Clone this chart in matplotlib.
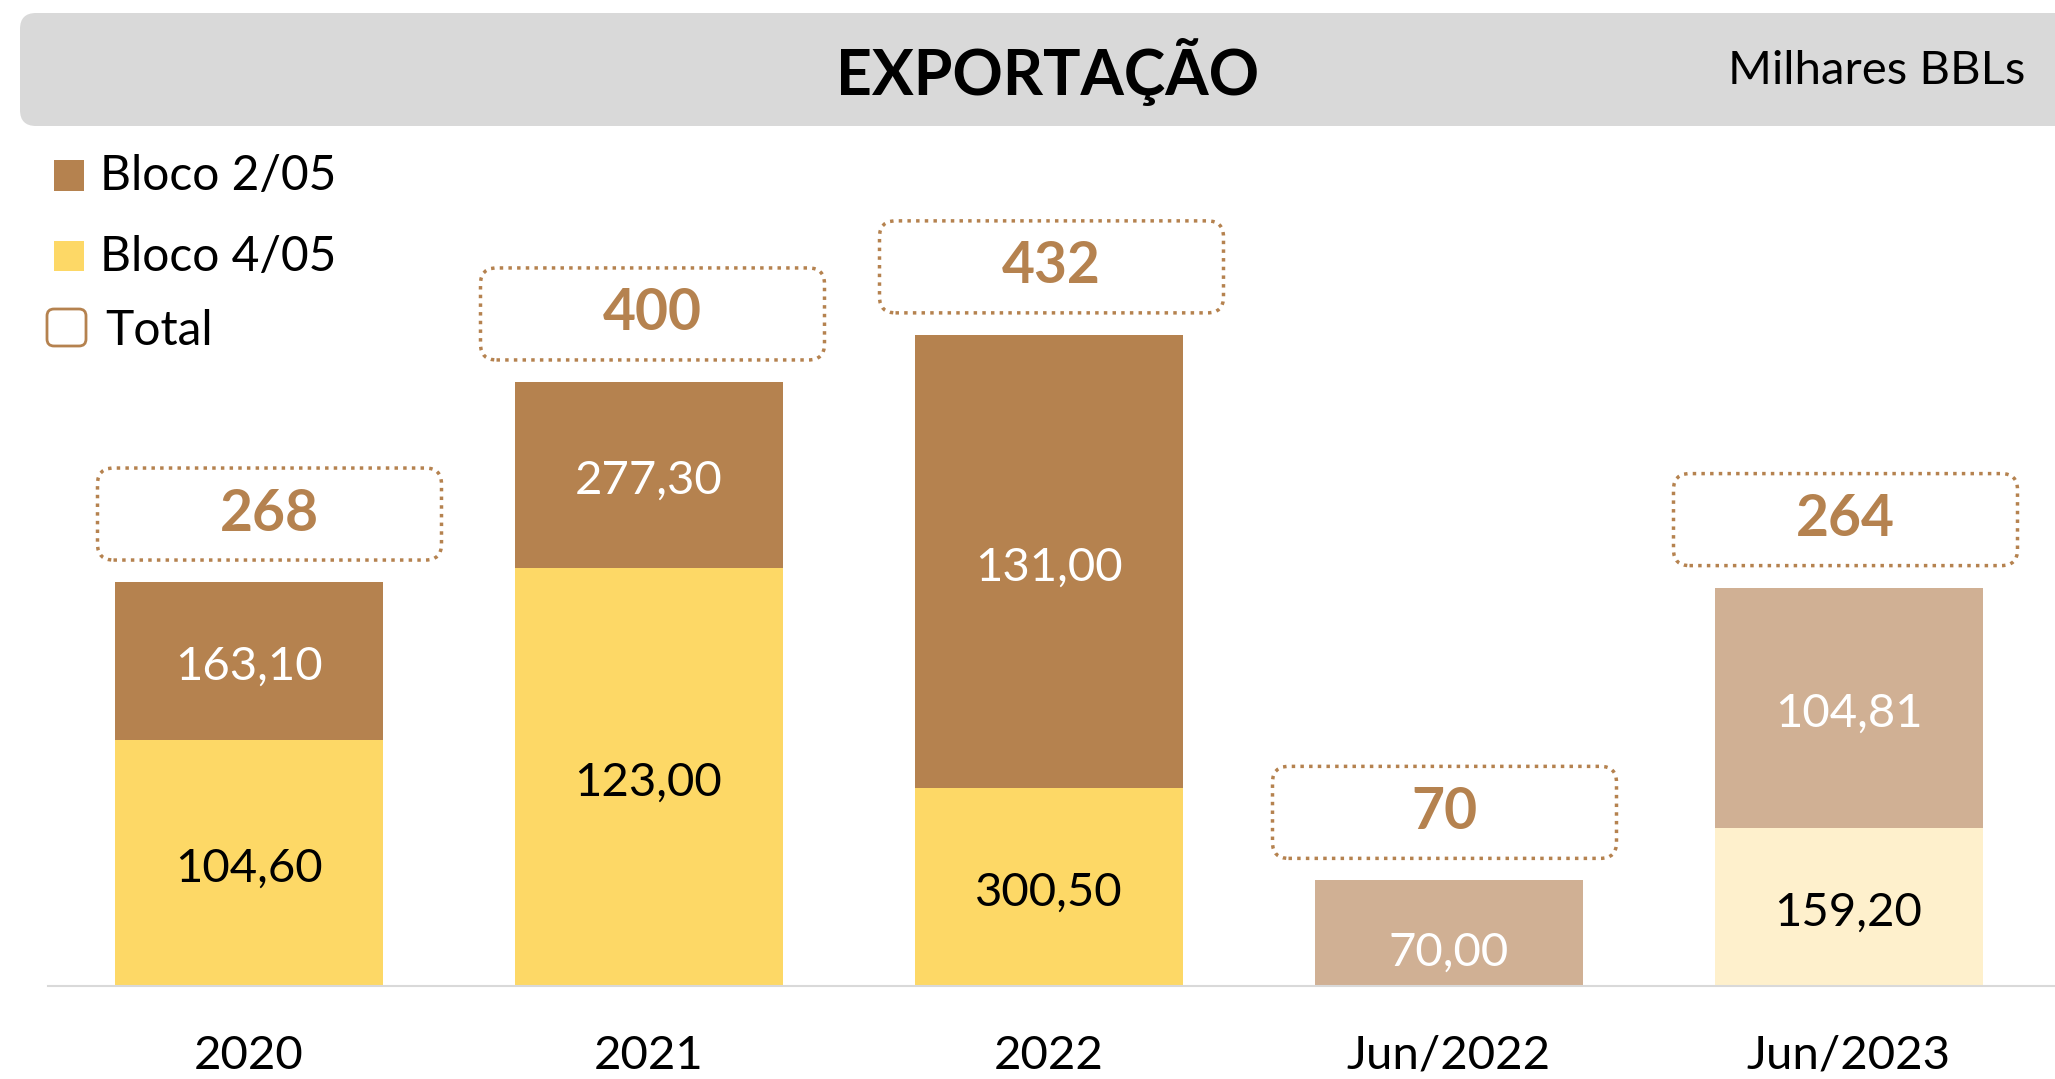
import matplotlib.pyplot as plt
from matplotlib.patches import FancyBboxPatch, Rectangle

plt.rcParams['font.family'] = ['Lato', 'DejaVu Sans']

# data
periods = ['2020', '2021', '2022', 'Jun/2022', 'Jun/2023']
bloco_405 = [163.10, 277.30, 131.00, 0.0, 104.81]   # lower segment (yellow)
bloco_205 = [104.60, 123.00, 300.50, 70.00, 159.20]  # upper segment (brown)
totals = [268, 400, 432, 70, 264]
# labels as printed on the chart
lower_labels = ['104,60', '123,00', '300,50', '', '159,20']
upper_labels = ['163,10', '277,30', '131,00', '70,00', '104,81']

BROWN = '#B5824F'
YELLOW = '#FDD866'
LIGHT_BROWN = '#D0B094'
LIGHT_YELLOW = '#FEF0CC'
lower_colors = [YELLOW, YELLOW, YELLOW, LIGHT_YELLOW, LIGHT_YELLOW]
upper_colors = [BROWN, BROWN, BROWN, LIGHT_BROWN, LIGHT_BROWN]

W, H = 2055, 1079
fig = plt.figure(figsize=(W / 100, H / 100), dpi=100)


def fx(px):
    return px / W


def fy(py):
    return 1 - py / H


# axes placed in pixel terms: baseline at y=986, one category = 400 px
ax = fig.add_axes([fx(48), fy(986), fx(W - 48), (986 - 126) / H])
px_per_unit = 1.509
ax.set_xlim((48 - 248.5) / 400, (W - 248.5) / 400)
ax.set_ylim(0, (986 - 126) / px_per_unit)

x = list(range(len(periods)))
bar_w = 0.67
ax.bar(x, bloco_405, width=bar_w, color=lower_colors, zorder=2)
ax.bar(x, bloco_205, width=bar_w, bottom=bloco_405, color=upper_colors, zorder=2)

# small downward nudge of the labels (px); the short Jun/2022 label sits lower
nudge = [6, 6, 6, 20, 6]
for i in x:
    dy = nudge[i] / px_per_unit
    if lower_labels[i]:
        ax.text(i, bloco_405[i] / 2 - dy, lower_labels[i], ha='center', va='center',
                fontsize=34, color='black', zorder=3)
    ax.text(i, bloco_405[i] + bloco_205[i] / 2 - dy, upper_labels[i], ha='center',
            va='center', fontsize=34, color='white', zorder=3)

# dotted total boxes
aspect = (1 / px_per_unit) / (1 / 400)
box_w = 344 / 400
box_h = 92 / px_per_unit
box_shift = [21, 4, 3, -4, -3]  # px, horizontal offset of each box from its bar
for i in x:
    top = bloco_405[i] + bloco_205[i]
    cy = top + 68 / px_per_unit
    cx = i + box_shift[i] / 400
    patch = FancyBboxPatch((cx - box_w / 2, cy - box_h / 2), box_w, box_h,
                           boxstyle='round,pad=0,rounding_size=0.04',
                           mutation_aspect=aspect, fill=False, edgecolor=BROWN,
                           linestyle=(0, (1, 1.5)), linewidth=2.5, zorder=3)
    ax.add_patch(patch)
    ax.text(cx, cy, str(totals[i]), ha='center', va='center', fontsize=41,
            fontweight='bold', color=BROWN, zorder=4)

for s in ['top', 'right', 'left']:
    ax.spines[s].set_visible(False)
ax.spines['bottom'].set_color('#D9D9D9')
ax.spines['bottom'].set_linewidth(1.5)
ax.set_yticks([])
ax.set_xticks(x)
ax.set_xticklabels(periods, fontsize=34)
ax.tick_params(axis='x', length=0, pad=35)

# title banner
fig_aspect = (1 / H) / (1 / W)
banner = FancyBboxPatch((fx(20), fy(126)), fx(W + 40 - 20), (126 - 13) / H,
                        boxstyle='round,pad=0,rounding_size=%f' % fx(16),
                        mutation_aspect=fig_aspect, transform=fig.transFigure,
                        facecolor='#D9D9D9', edgecolor='none', zorder=0)
fig.add_artist(banner)
fig.text(fx(1048), fy(72), 'EXPORTAÇÃO', ha='center', va='center',
         fontsize=45, fontweight='bold', color='black')
fig.text(fx(2025), fy(71), 'Milhares BBLs', ha='right', va='center',
         fontsize=34, color='black')

# legend
fig.add_artist(Rectangle((fx(54), fy(191)), fx(30), 31 / H, transform=fig.transFigure,
                         facecolor=BROWN, edgecolor='none'))
fig.add_artist(Rectangle((fx(54), fy(271)), fx(30), 30 / H, transform=fig.transFigure,
                         facecolor=YELLOW, edgecolor='none'))
fig.add_artist(FancyBboxPatch((fx(47), fy(346)), fx(39), 37 / H,
                              boxstyle='round,pad=0,rounding_size=%f' % fx(7),
                              mutation_aspect=fig_aspect, transform=fig.transFigure,
                              fill=False, edgecolor=BROWN, linewidth=2))
fig.text(fx(100), fy(176), 'Bloco 2/05', ha='left', va='center', fontsize=34.5)
fig.text(fx(100), fy(257), 'Bloco 4/05', ha='left', va='center', fontsize=34.5)
fig.text(fx(105), fy(331), 'Total', ha='left', va='center', fontsize=34.5)

fig.savefig('out.png', dpi=100, facecolor='white')
